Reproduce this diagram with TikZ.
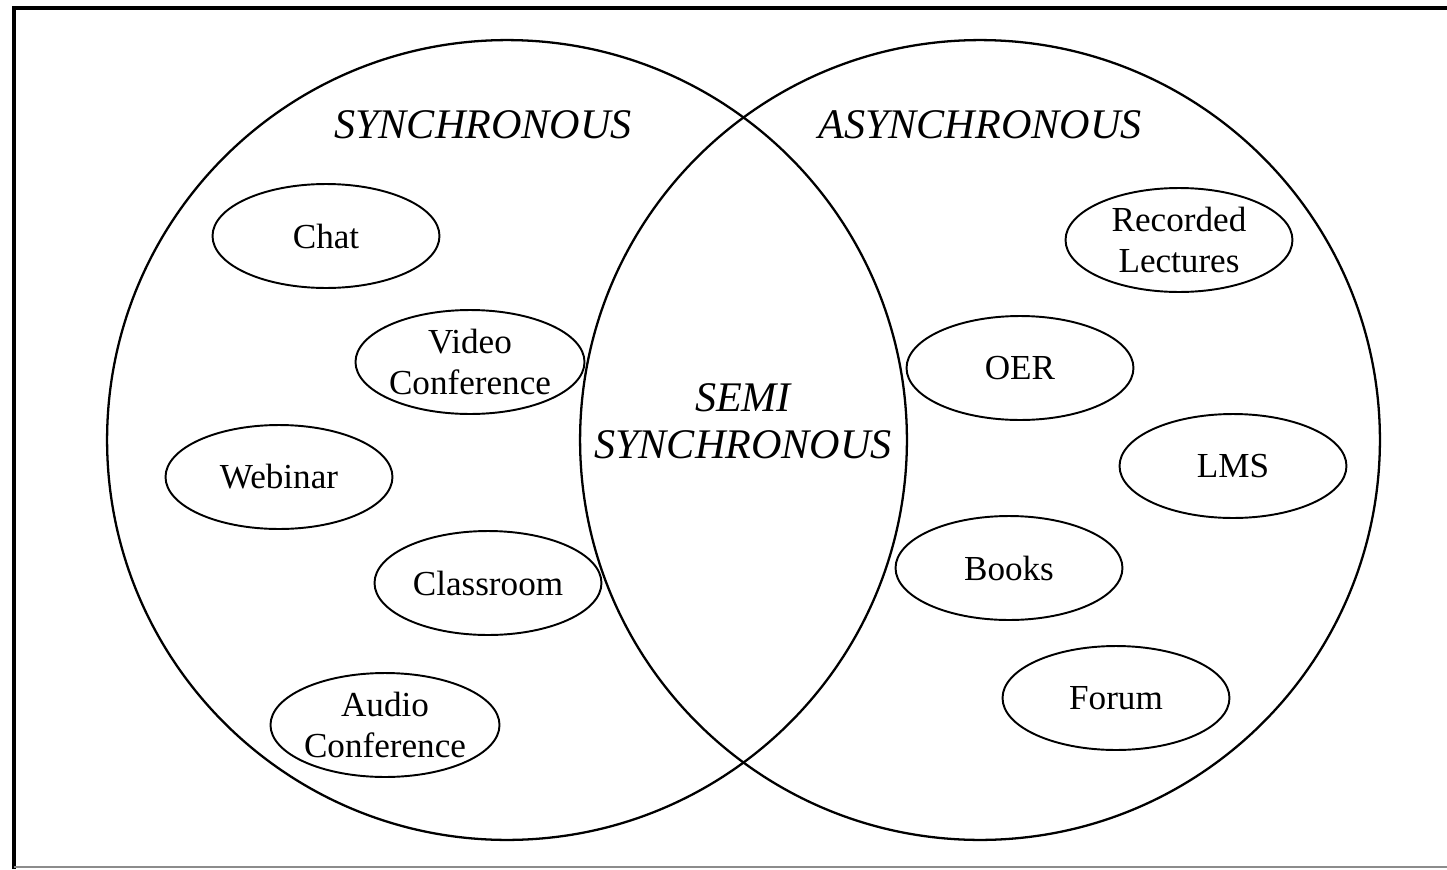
\documentclass[tikz,border=0pt]{standalone}
\usepackage{fontspec}
\setmainfont{Liberation Serif}
\usetikzlibrary{shapes.geometric, positioning}

\begin{document}
\begin{tikzpicture}[
    x=0.02cm, y=-0.02cm,
    setcircle/.style={circle, draw, line width=1.3pt, minimum size=16cm, inner sep=0pt},
    item/.style={ellipse, draw, line width=1.1pt, minimum width=4.54cm, minimum height=2.08cm, inner sep=0pt, align=center, font=\fontsize{20}{23}\selectfont},
    heading/.style={align=center, font=\fontsize{24}{27}\selectfont\itshape}
]
\useasboundingbox (0,0) rectangle (1447,869);

% Frame
\draw[line width=2.3pt] (1447,8) -| (14,869);
\draw[line width=0.8pt, black!45] (14,867) -- (1447,867);

% Sets
\node[setcircle] (sync) at (507,440) {};
\node[setcircle] (async) at (980,440) {};

% Headings
\node[heading] (synclabel) at (483,125) {SYNCHRONOUS};
\node[heading] (asynclabel) at (980,125) {ASYNCHRONOUS};
\node[heading] (semi) at (743,421) {SEMI\\SYNCHRONOUS};

% Synchronous tools
\node[item] (chat) at (326,236) {Chat};
\node[item] (video) at (470,362) {Video\\Conference};
\node[item] (webinar) at (279,477) {Webinar};
\node[item] (classroom) at (488,583) {Classroom};
\node[item] (audio) at (385,725) {Audio\\Conference};

% Asynchronous tools
\node[item] (recorded) at (1179,240) {Recorded\\Lectures};
\node[item] (oer) at (1020,368) {OER};
\node[item] (lms) at (1233,466) {LMS};
\node[item] (books) at (1009,568) {Books};
\node[item] (forum) at (1116,698) {Forum};

\end{tikzpicture}
\end{document}
